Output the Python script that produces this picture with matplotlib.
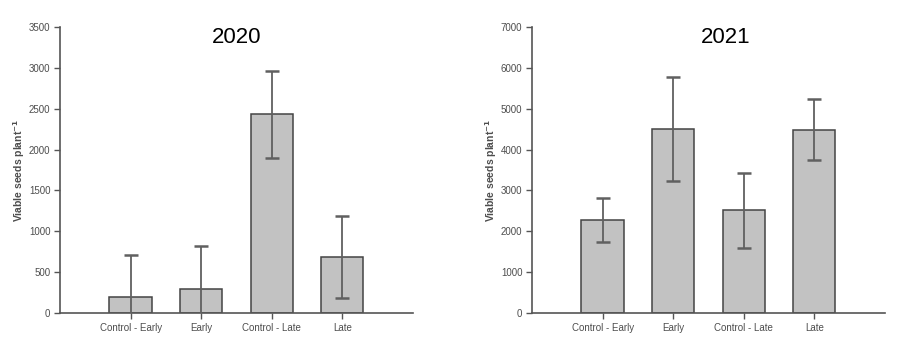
import numpy as np
from matplotlib import pyplot as plt

plt.rcParams['font.family'] = ['Liberation Sans', 'DejaVu Sans']

treatments = ['Control - Early', 'Early', 'Control - Late', 'Late']

# Mean viable seeds per plant and error (same order as treatments)
seeds_2020 = [190, 295, 2430, 685]
err_2020 = [525, 520, 530, 505]

seeds_2021 = [2280, 4500, 2510, 4490]
err_2021 = [535, 1280, 915, 750]

years = ['2020', '2021']
ymax = [3500, 7000]
ystep = [500, 1000]

bar_fill = '#c2c2c2'
bar_edge = '#444444'
axis_grey = '#555555'
text_grey = '#4d4d4d'


def draw_panel(ax, values, errors, year, top, step, title_x):
    x = np.arange(len(treatments))
    ax.bar(x, values, width=0.6, color=bar_fill, edgecolor=bar_edge, linewidth=1.1, zorder=2)
    ax.errorbar(x, values, yerr=errors, fmt='none', ecolor='#606060',
                elinewidth=1.3, capsize=5, capthick=1.8, zorder=3)

    ax.set_xlim(-1, 4)
    ax.set_ylim(0, top)
    ax.set_yticks(np.arange(0, top + 1, step))
    ax.set_xticks(x)
    ax.set_xticklabels(treatments)

    for side in ['top', 'right']:
        ax.spines[side].set_visible(False)
    for side in ['left', 'bottom']:
        ax.spines[side].set_color(axis_grey)
        ax.spines[side].set_linewidth(1.2)

    ax.tick_params(axis='both', direction='out', length=4, width=1,
                   color=axis_grey, labelsize=7, labelcolor=text_grey, pad=3)
    ax.set_ylabel('Viable seeds plant$^{\\mathbf{-1}}$', fontsize=7.5, color=text_grey,
                  labelpad=1, fontweight='bold')

    ax.text(title_x, 0.962, year, transform=ax.transAxes, ha='center', va='center',
            fontsize=16, color='black')


fig = plt.figure(figsize=(9.07, 3.42), dpi=100)
ax1 = fig.add_axes([0.0662, 0.0848, 0.389, 0.836])
ax2 = fig.add_axes([0.5866, 0.0848, 0.389, 0.836])

draw_panel(ax1, seeds_2020, err_2020, years[0], ymax[0], ystep[0], 0.50)
draw_panel(ax2, seeds_2021, err_2021, years[1], ymax[1], ystep[1], 0.55)

fig.savefig('out.png', dpi=100)
